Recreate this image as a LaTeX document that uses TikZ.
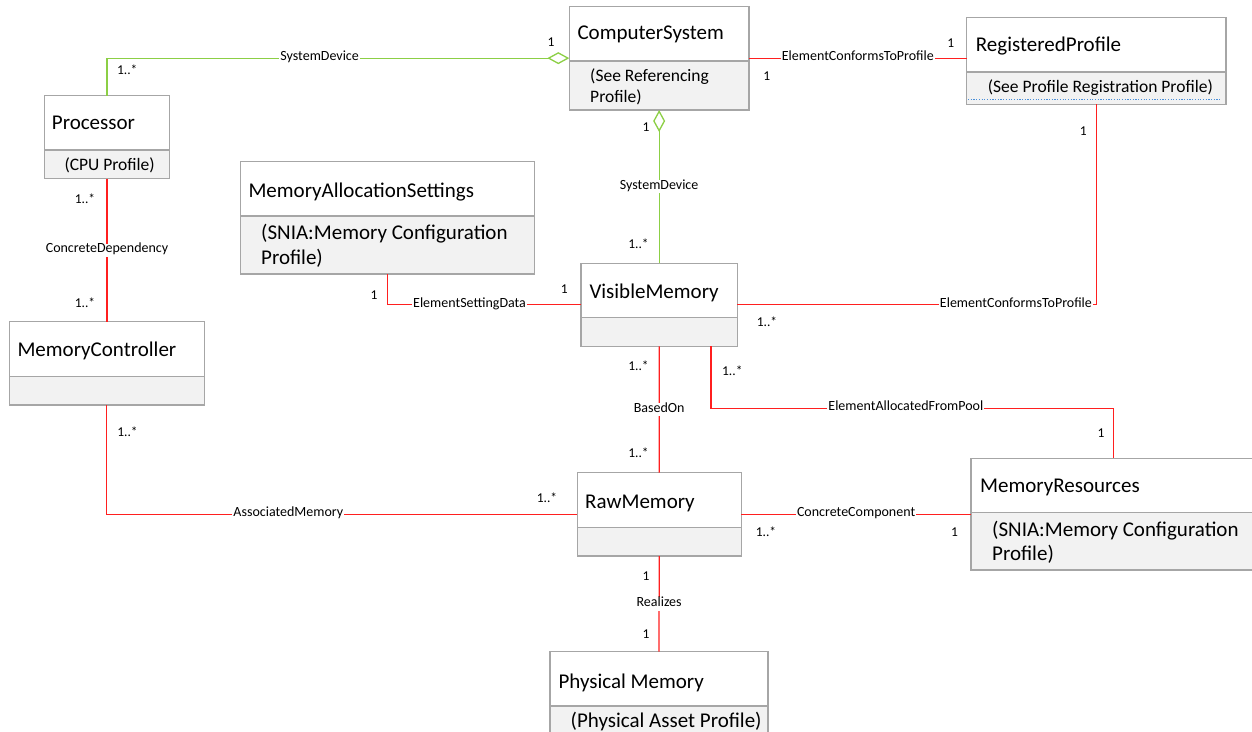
\documentclass[tikz,border=0pt]{standalone}
\usepackage{fontspec}
\setmainfont{Carlito}
\usetikzlibrary{arrows.meta}
\definecolor{linkred}{HTML}{FF1F1F}
\definecolor{linkgreen}{HTML}{8CCF45}
\definecolor{framegray}{HTML}{A6A6A6}
\definecolor{compart}{HTML}{F2F2F2}
\definecolor{dotblue}{HTML}{4A8FD9}

% class box: name, left, top, right, divider, bottom
\newcommand\classbox[6]{%
  \node[classframe, minimum width={#4-#2}, minimum height={#6-#3}, anchor=north west] (#1) at (#2,#3) {};
  \fill[compart] (#1.west |- 0,#5) rectangle (#1.south east);
  \draw[boxline] (#1.north west) rectangle (#1.south east);
  \draw[boxline] (#1.west |- 0,#5) -- (#1.east |- 0,#5);
}

\begin{document}
\begin{tikzpicture}[x=1pt,y=-1pt,
  classframe/.style={rectangle, draw=none, inner sep=0pt, outer sep=0pt},
  boxline/.style={draw=framegray, line width=1.2pt},
  title/.style={font=\fontsize{21}{25}\selectfont, inner sep=0pt, anchor=base west, yshift=-6.6pt},
  subsmall/.style={font=\fontsize{17.5}{21}\selectfont, inner sep=0pt, anchor=base west, yshift=-5.5pt},
  sublarge/.style={font=\fontsize{21}{25}\selectfont, inner sep=0pt, anchor=base west, yshift=-6.6pt},
  mult/.style={font=\fontsize{13.5}{16}\selectfont, inner sep=0pt, anchor=base, yshift=-4.3pt},
  assoc/.style={font=\fontsize{14}{16}\selectfont, fill=white, inner xsep=1pt, inner ysep=2pt, text height=0.72em, text depth=0.22em},
  redlink/.style={draw=linkred, line width=1.25pt},
  greenlink/.style={draw=linkgreen, line width=1.3pt},
  aggrend/.style={-{Diamond[open, length=22pt, width=12pt, fill=white]}},
  aggrstart/.style={{Diamond[open, length=22pt, width=12pt, fill=white]}-},
]
\useasboundingbox (0,0) rectangle (1252,731);

% classes
\classbox{proc}{44.5}{95.7}{169.5}{150}{178.7}
\classbox{cs}{569.3}{6.3}{749}{61}{110}
\classbox{rp}{966.7}{17.3}{1226}{72}{104.3}
\classbox{mas}{240.7}{161.7}{534.3}{216}{274}
\classbox{vm}{581}{263.3}{737.3}{317.7}{346.3}
\classbox{mc}{9.3}{321.7}{204.3}{376.7}{405}
\classbox{rm}{577.2}{472.7}{741.3}{527.7}{556}
\classbox{mr}{970.9}{458.3}{1262}{512.7}{570}
\classbox{pm}{550}{651.7}{768}{706}{745}

\draw[dotblue, line width=0.9pt, dash pattern=on 1.2pt off 1.5pt] (968,99) -- (1221,99);

% class names and compartments
\node[title] (procT) at (51.7,123.3) {Processor};
\node[subsmall] (procS) at (64.3,165) {(CPU Profile)};
\node[title] (csT) at (577.3,33.3) {ComputerSystem};
\node[subsmall] (csS1) at (590,76) {(See Referencing};
\node[subsmall] (csS2) at (590,96.7) {Profile)};
\node[title] (rpT) at (975.7,45) {RegisteredProfile};
\node[subsmall] (rpS) at (987.7,87.3) {(See Profile Registration Profile)};
\node[title] (masT) at (248.3,190.7) {MemoryAllocationSettings};
\node[sublarge] (masS1) at (261,233.3) {(SNIA:Memory Configuration};
\node[sublarge] (masS2) at (261,258.3) {Profile)};
\node[title] (vmT) at (589.3,291.7) {VisibleMemory};
\node[title] (mcT) at (17.3,350) {MemoryController};
\node[title] (rmT) at (585,501.7) {RawMemory};
\node[title] (mrT) at (980,486) {MemoryResources};
\node[sublarge] (mrS1) at (992,530) {(SNIA:Memory Configuration};
\node[sublarge] (mrS2) at (992,554) {Profile)};
\node[title] (pmT) at (558.3,681.7) {Physical Memory};
\node[sublarge] (pmS) at (570.5,721) {(Physical Asset Profile)};

% associations
\draw[greenlink, aggrend] (proc.north) |- node[assoc, pos=0.73] {SystemDevice} (cs.west);
\draw[greenlink, aggrstart] (cs.south) -- node[assoc] {SystemDevice} (vm.north);
\draw[redlink] (cs.east) -- node[assoc] {ElementConformsToProfile} (cs.east -| rp.west);
\draw[redlink] (rp.south) |- node[assoc, pos=0.612] {ElementConformsToProfile} (vm.east);
\draw[redlink] (mas.south) |- node[assoc, pos=0.712] {ElementSettingData} (vm.west);
\draw[redlink] (proc.south) -- node[assoc] {ConcreteDependency} (proc.south |- mc.north);
\draw[redlink] (mc.south) |- node[assoc, pos=0.693] {AssociatedMemory} (rm.west);
\draw[redlink] (vm.south) -- node[assoc] {BasedOn} (rm.north);
\coordinate (poolL) at (711,408.3);
\coordinate (poolR) at (1113.6,408.3);
\draw[redlink] (vm.south -| poolL) -- (poolL) -- node[assoc, pos=0.484] {ElementAllocatedFromPool} (poolR) -- (poolR |- mr.north);
\draw[redlink] (rm.east) -- node[assoc] {ConcreteComponent} (rm.east -| mr.west);
\draw[redlink] (rm.south) -- node[assoc] {Realizes} (pm.north);

% multiplicities
\node[mult] (m1) at (127.2,70) {1..*};
\node[mult] (m2) at (551,42) {1};
\node[mult] (m3) at (646,127) {1};
\node[mult] (m4) at (638.5,243.7) {1..*};
\node[mult] (m5) at (766.7,76) {1};
\node[mult] (m6) at (950.7,43) {1};
\node[mult] (m7) at (1083.3,131) {1};
\node[mult] (m8) at (767,322.3) {1..*};
\node[mult] (m9) at (374,295) {1};
\node[mult] (m10) at (564.3,289.3) {1};
\node[mult] (m11) at (85,199.3) {1..*};
\node[mult] (m12) at (85,302.7) {1..*};
\node[mult] (m13) at (127.5,431.7) {1..*};
\node[mult] (m14) at (547,497.7) {1..*};
\node[mult] (m15) at (638.5,365.7) {1..*};
\node[mult] (m16) at (732.3,370.7) {1..*};
\node[mult] (m17) at (638.5,453) {1..*};
\node[mult] (m18) at (1101,433) {1};
\node[mult] (m19) at (766,532.3) {1..*};
\node[mult] (m20) at (954.5,532) {1};
\node[mult] (m21) at (646,575.7) {1};
\node[mult] (m22) at (646,634.3) {1};
\end{tikzpicture}
\end{document}
